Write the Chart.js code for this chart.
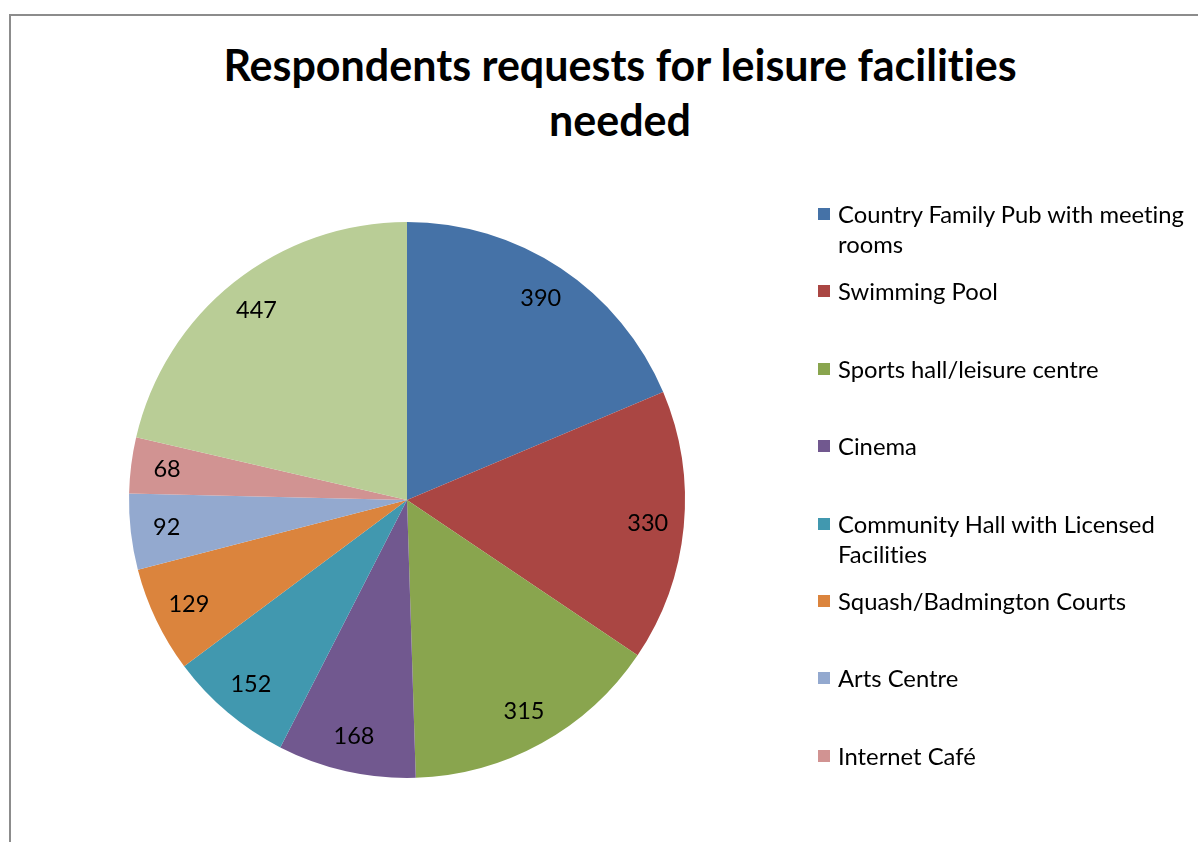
<!DOCTYPE html>
<html>
<head>
<meta charset="utf-8">
<title>Leisure facilities</title>
<script src="https://cdn.jsdelivr.net/npm/chart.js@4/dist/chart.umd.min.js"></script>
<style>
  html, body { margin: 0; padding: 0; background: #fff; overflow: hidden; }
  body { width: 1198px; height: 842px; position: relative; font-family: Lato, "Open Sans", sans-serif;
         color: #000; font-variant-ligatures: none; }
  .frame { position: absolute; left: 9px; top: 14px; width: 1400px; height: 1000px;
           border-top: 2px solid #8c8c8c; border-left: 2px solid #8c8c8c; }
  h1 { position: absolute; left: 0; width: 1240px; top: 37px; margin: 0; text-align: center;
       font-size: 43px; font-weight: 700; line-height: 55px; }
  #chart { position: absolute; left: 0; top: 0; }
  .legend { position: absolute; left: 818px; top: 0; font-size: 23.8px; line-height: 30px; }
  .legend .item { position: absolute; left: 0; white-space: nowrap; }
  .legend .box { position: absolute; left: 0; top: 9px; width: 12px; height: 12px; }
  .legend .text { position: absolute; left: 20px; top: 0; }
</style>
</head>
<body>
<div class="frame"></div>
<h1>Respondents requests for leisure facilities<br>needed</h1>
<canvas id="chart" width="1198" height="842"></canvas>
<div class="legend" id="legend"></div>
<script>
// facilities asked for, in the order they are drawn (clockwise from the top)
const facilities = [
    ['Country Family Pub with meeting', 'rooms'],
    ['Swimming Pool'],
    ['Sports hall/leisure centre'],
    ['Cinema'],
    ['Community Hall with Licensed', 'Facilities'],
    ['Squash/Badmington Courts'],
    ['Arts Centre'],
    ['Internet Café'],
    ['Other']
];
const requests = [390, 330, 315, 168, 152, 129, 92, 68, 447];
const colours = ['#4572A7', '#AA4643', '#89A54E', '#71588F', '#4198AF', '#DB843D', '#93A9CF', '#D19392', '#B9CD96'];
const legendCount = 8;

// writes each slice's value inside it, near the rim
const sliceValues = {
    id: 'sliceValues',
    afterDatasetsDraw(chart) {
        const ctx = chart.ctx;
        const meta = chart.getDatasetMeta(0);
        ctx.save();
        ctx.font = '23.5px Lato, "Open Sans", sans-serif';
        ctx.fillStyle = '#000';
        ctx.textAlign = 'center';
        ctx.textBaseline = 'middle';
        meta.data.forEach((arc, i) => {
            const a = (arc.startAngle + arc.endAngle) / 2;
            const r = arc.outerRadius * 0.87;
            ctx.fillText(chart.data.datasets[0].data[i], arc.x + Math.cos(a) * r, arc.y + Math.sin(a) * r);
        });
        ctx.restore();
    }
};

const ctx = document.getElementById('chart').getContext('2d');
const chart = new Chart(ctx, {
    type: 'pie',
    data: {
        labels: facilities,
        datasets: [{
            data: requests,
            backgroundColor: colours,
            borderWidth: 0
        }]
    },
    options: {
        responsive: false,
        animation: false,
        layout: { padding: { left: 129, right: 513, top: 222, bottom: 64 } },
        plugins: {
            legend: { display: false },
            tooltip: { enabled: false }
        }
    },
    plugins: [sliceValues]
});

// legend down the right hand side
const legend = document.getElementById('legend');
facilities.slice(0, legendCount).forEach((lines, i) => {
    const item = document.createElement('div');
    item.className = 'item';
    item.style.top = (214 + i * 77.4 - 15) + 'px';
    item.innerHTML = '<span class="box" style="background:' + colours[i] + '"></span>' +
        '<span class="text">' + lines.join('<br>') + '</span>';
    legend.appendChild(item);
});
</script>
</body>
</html>
